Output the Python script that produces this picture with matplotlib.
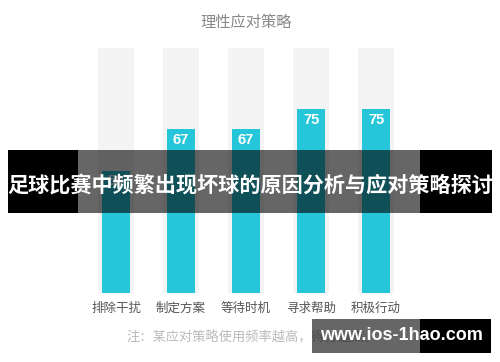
import matplotlib.pyplot as plt
from matplotlib.patches import Rectangle

plt.rcParams['font.family'] = ['Noto Sans CJK SC', 'DejaVu Sans']

# 数据
categories = ['排除干扰', '制定方案', '等待时机', '寻求帮助', '积极行动']
values = [50, 67, 67, 75, 75]
full_value = 100

title = '理性应对策略'
note = '注：某应对策略使用频率越高，得分越高。'
banner = '足球比赛中频繁出现坏球的原因分析与应对策略探讨'
watermark = 'www.ios-1hao.com'

W, H = 500, 362
teal = '#26c6da'


def px(x, y):
    '''像素坐标(左上角为原点) -> figure坐标'''
    return x / W, 1 - y / H


fig = plt.figure(figsize=(5, 3.62), dpi=100)
fig.patch.set_facecolor('white')

# 坐标区: y=0 在 293px, y=100 在 48px
left, bottom = px(83.5, 293)
ax = fig.add_axes([left, bottom, 325 / W, 245 / H])
xs = range(len(categories))
ax.bar(xs, [full_value] * len(xs), width=0.554, color='#f4f4f4', zorder=1)
ax.bar(xs, values, width=0.446, color=teal, zorder=2)
for x, v in zip(xs, values):
    ax.text(x, v - 1.5, str(v), ha='center', va='top', color='white',
            fontsize=10.5, fontweight='bold', family=['Liberation Sans'], zorder=3)
ax.set_xlim(-0.5, 4.5)
ax.set_ylim(0, 100)
ax.axis('off')

# 标题、类别、注释
fig.text(*px(246, 22), title, ha='center', va='center', fontsize=11, color='#888888')
for x, c in zip(xs, categories):
    fig.text(*px(116 + 65 * x, 308), c, ha='center', va='center', fontsize=9, color='#555555')
fig.text(*px(126, 338), note, ha='left', va='center', fontsize=9.5, color='#bbbbbb')


def rect(x0, y0, x1, y1, **kw):
    fx, fy = px(x0, y1)
    fig.add_artist(Rectangle((fx, fy), (x1 - x0) / W, (y1 - y0) / H,
                             transform=fig.transFigure, lw=0, zorder=5, **kw))


# 标题横幅
rect(8, 150, 78, 213, color='black')
rect(78, 150, 420, 213, color='black', alpha=0.6)
rect(420, 150, 492, 213, color='black')
fig.text(*px(250, 185), banner, ha='center', va='center', color='white',
         fontsize=15.2, fontweight='bold', zorder=6)

# 水印
rect(312, 319, 420, 353, color='black', alpha=0.6)
rect(420, 319, 491, 353, color='black')
fig.text(*px(401, 336), watermark, ha='center', va='center', color='white',
         fontsize=13, fontweight='bold', family=['Liberation Sans'], zorder=6)

fig.savefig('out.png', dpi=100)
